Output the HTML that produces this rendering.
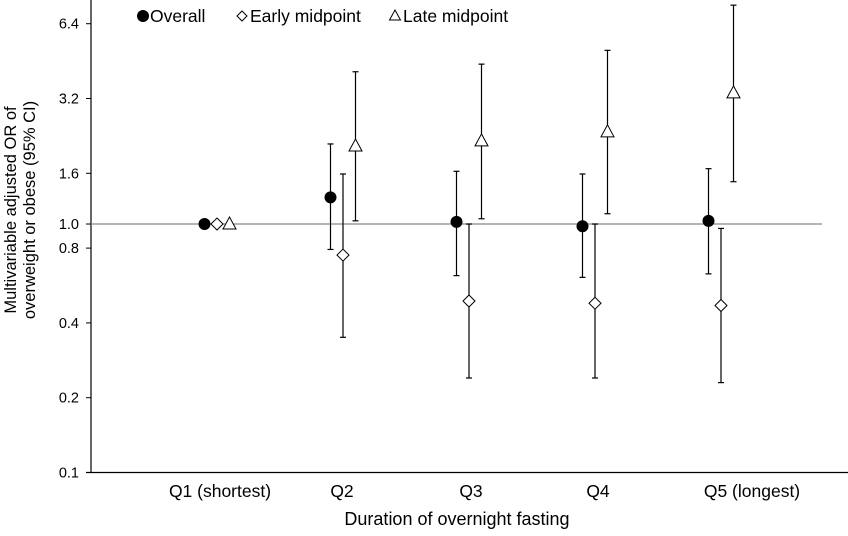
<!DOCTYPE html>
<html><head><meta charset="utf-8"><style>
body{margin:0;background:#fff;font-family:"Liberation Sans",Arial,sans-serif}
svg text{font-family:"Liberation Sans",Arial,sans-serif;fill:#000}
</style></head><body>
<svg id="chart" width="848" height="531" xmlns="http://www.w3.org/2000/svg"></svg>
<script>
const categories=["Q1 (shortest)","Q2","Q3","Q4","Q5 (longest)"];
const overallOR=[1.0,1.28,1.02,0.98,1.03];
const overallLo=[1.0,0.79,0.62,0.61,0.63];
const overallHi=[1.0,2.1,1.63,1.59,1.67];
const earlyOR=[1.0,0.75,0.49,0.48,0.47];
const earlyLo=[1.0,0.35,0.24,0.24,0.23];
const earlyHi=[1.0,1.59,1.0,1.0,0.96];
const lateOR=[1.0,2.06,2.16,2.35,3.37];
const lateLo=[1.0,1.03,1.05,1.1,1.48];
const lateHi=[1.0,4.1,4.4,5.0,7.6];
const yTicks=[0.1,0.2,0.4,0.8,1.0,1.6,3.2,6.4];
const yTickLabels=["0.1","0.2","0.4","0.8","1.0","1.6","3.2","6.4"];

const svg=document.getElementById('chart');
const NS="http://www.w3.org/2000/svg";
function mk(tag,attrs,name,parent){const e=document.createElementNS(NS,tag);for(const k in attrs)e.setAttribute(k,attrs[k]);


(parent||svg).appendChild(e);return e;}
const y0=472.5, perDouble=74.8, xL=91, xR=822;
const labelShift=[3,-1,2,3,31];
function y(v){return y0-Math.log2(v/0.1)*perDouble;}
function x(i){return 217+i*126;}

mk('line',{x1:xL,y1:0,x2:xL,y2:y0,stroke:'#000','stroke-width':1.2},'y-axis');
mk('line',{x1:xL-5,y1:y0,x2:848,y2:y0,stroke:'#000','stroke-width':1.2},'x-axis');
mk('line',{x1:xL,y1:y(1),x2:xR,y2:y(1),stroke:'#888','stroke-width':1.2},'reference-line');
yTicks.forEach((t,i)=>{
  mk('line',{x1:xL-5,y1:y(t),x2:xL,y2:y(t),stroke:'#000'},'y-tick');
  const tx=mk('text',{x:xL-12,y:y(t)+5,'text-anchor':'end','font-size':14.5},'y-tick-label');tx.textContent=yTickLabels[i];
});
categories.forEach((c,i)=>{
  const t=mk('text',{x:x(i)+labelShift[i],y:497,'text-anchor':'middle','font-size':17.5},'x-tick-label');t.textContent=c;
});
const xt=mk('text',{x:457,y:525,'text-anchor':'middle','font-size':18},'x-axis-title');xt.textContent="Duration of overnight fasting";
const yt=mk('text',{transform:'translate(16,210) rotate(-90)','text-anchor':'middle','font-size':16.5},'y-axis-title');yt.textContent="Multivariable adjusted OR of";
const yt2=mk('text',{transform:'translate(35,210) rotate(-90)','text-anchor':'middle','font-size':16.5},'y-axis-title-line2');yt2.textContent="overweight or obese (95% CI)";

function err(cx,lo,hi,name){
  if(lo===hi)return;
  mk('line',{x1:cx,y1:y(hi),x2:cx,y2:y(lo),stroke:'#000','stroke-width':1.2},name+'-ci');
  mk('line',{x1:cx-3,y1:y(hi),x2:cx+3,y2:y(hi),stroke:'#000','stroke-width':1.2},name+'-cap');
  mk('line',{x1:cx-3,y1:y(lo),x2:cx+3,y2:y(lo),stroke:'#000','stroke-width':1.2},name+'-cap');
}
function circle(cx,cy,name,p){mk('circle',{cx:cx,cy:cy,r:6,fill:'#000'},name,p);}
function diamond(cx,cy,name,p){mk('polygon',{points:`${cx},${cy-6} ${cx+6},${cy} ${cx},${cy+6} ${cx-6},${cy}`,fill:'#fff',stroke:'#000','stroke-width':1},name,p);}
function tri(cx,cy,name,p){mk('polygon',{points:`${cx},${cy-7} ${cx+6.5},${cy+5} ${cx-6.5},${cy+5}`,fill:'#fff',stroke:'#000','stroke-width':1},name,p);}
categories.forEach((c,i)=>{
  const xo=x(i)-12.5, xe=x(i), xl=x(i)+12.5;
  err(xo,overallLo[i],overallHi[i],'overall');
  err(xe,earlyLo[i],earlyHi[i],'early');
  err(xl,lateLo[i],lateHi[i],'late');
  circle(xo,y(overallOR[i]),'overall-point');
  diamond(xe,y(earlyOR[i]),'early-point');
  tri(xl,y(lateOR[i]),'late-point');
});
const lg=mk('g',{},'legend');
circle(143,16,'legend-overall-marker',lg);
let t=mk('text',{x:150,y:22,'font-size':17.5},'legend-overall-label',lg);t.textContent="Overall";
mk('polygon',{points:"242,11 247,16 242,21 237,16",fill:'#fff',stroke:'#000','stroke-width':1},'legend-early-marker',lg);
t=mk('text',{x:250,y:22,'font-size':17.5},'legend-early-label',lg);t.textContent="Early midpoint";
mk('polygon',{points:"395,10 400.5,20 389.5,20",fill:'#fff',stroke:'#000','stroke-width':1},'legend-late-marker',lg);
t=mk('text',{x:403,y:22,'font-size':17.5},'legend-late-label',lg);t.textContent="Late midpoint";
</script>
</body></html>
